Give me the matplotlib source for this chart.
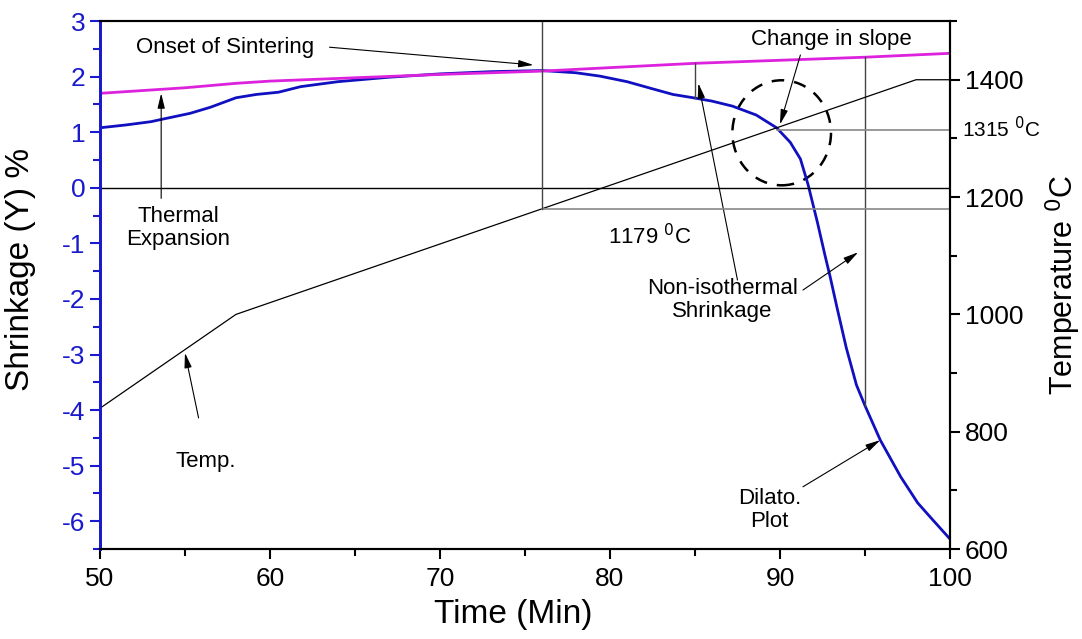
import matplotlib
matplotlib.use("Agg")
import matplotlib.pyplot as plt
from matplotlib.patches import Ellipse
from matplotlib.ticker import MultipleLocator

plt.rcParams['font.family'] = ['Liberation Sans', 'DejaVu Sans']
plt.rcParams['axes.unicode_minus'] = False

# Dilatometer shrinkage curve (blue)
dil_time = [50, 51.5, 53, 53.6, 55.3, 56.5, 58, 59.2, 60.5, 61.8, 64, 67, 70, 73, 76,
            78, 79.4, 81, 82.4, 83.7, 84.9, 86, 87.2, 88.6, 89.8, 90.6, 91.2, 91.65,
            92.2, 92.65, 92.95, 93.35, 93.9, 94.5, 95.0, 95.9, 97.1, 98.1, 99, 100]
dil_val = [1.08, 1.13, 1.19, 1.23, 1.34, 1.45, 1.62, 1.68, 1.72, 1.82, 1.91, 1.99, 2.05, 2.09, 2.11,
           2.07, 2.01, 1.91, 1.79, 1.68, 1.62, 1.56, 1.47, 1.31, 1.08, 0.82, 0.52, 0.06,
           -0.62, -1.22, -1.60, -2.15, -2.88, -3.55, -3.92, -4.54, -5.2, -5.67, -5.98, -6.32]

# Thermal expansion reference (magenta)
exp_time = [50, 55, 58, 60, 65, 70, 76, 85, 95, 100]
exp_val = [1.70, 1.80, 1.88, 1.92, 1.98, 2.04, 2.10, 2.24, 2.35, 2.42]

# Temperature program
temp_time = [50, 58, 98, 100]
temp_val = [840, 1000, 1400, 1400]

fig = plt.figure(figsize=(10.82, 6.39), dpi=100)
ax = fig.add_axes([0.0924, 0.1408, 0.7856, 0.8262])
ax2 = ax.twinx()

blue_tick = '#1a1acc'
ax.plot(dil_time, dil_val, color='#1010c0', lw=2)
ax.plot(exp_time, exp_val, color='#dd22dd', lw=2)
ax2.plot(temp_time, temp_val, color='black', lw=0.9)

ax.set_xlim(50, 100)
ax.set_ylim(-6.5, 3)
ax2.set_ylim(600, 1500)

ax.axhline(0, color='black', lw=1)
ax2.plot([76, 100], [1179, 1179], color='#888888', lw=1.2)
ax2.plot([89.8, 100], [1315, 1315], color='#888888', lw=1.2)
ax2.plot([76, 76], [1179, 1500], color='#444444', lw=1)
ax.plot([85, 85], [1.62, 2.24], color='#444444', lw=1)
ax.plot([95, 95], [-3.92, 2.35], color='#444444', lw=1)

ax.add_patch(Ellipse((90.1, 0.99), 5.8, 1.89, fill=False, ls=(0, (5, 4)), lw=1.8, color='black'))

# spines and ticks
ax.spines['left'].set_color(blue_tick)
ax.spines['left'].set_linewidth(2)
ax2.spines['left'].set_color(blue_tick)
ax2.spines['left'].set_linewidth(2)
for s in ['top', 'right', 'bottom']:
    ax.spines[s].set_linewidth(1.5)
    ax2.spines[s].set_linewidth(1.5)

ax.xaxis.set_major_locator(MultipleLocator(10))
ax.xaxis.set_minor_locator(MultipleLocator(5))
ax.yaxis.set_major_locator(MultipleLocator(1))
ax.yaxis.set_minor_locator(MultipleLocator(0.5))
ax2.yaxis.set_major_locator(MultipleLocator(200))
ax2.yaxis.set_minor_locator(MultipleLocator(100))

ax.tick_params(axis='x', which='both', direction='out', width=1.5, labelsize=19, pad=6)
ax.tick_params(axis='x', which='major', length=7)
ax.tick_params(axis='x', which='minor', length=5)
ax.tick_params(axis='y', which='both', direction='out', colors=blue_tick, width=1.5, labelsize=19)
ax.tick_params(axis='y', which='major', length=7)
ax.tick_params(axis='y', which='minor', length=5)
ax2.tick_params(axis='y', which='both', direction='out', width=1.5, labelsize=19)
ax2.tick_params(axis='y', which='major', length=7)
ax2.tick_params(axis='y', which='minor', length=5)

ax.set_xlabel('Time (Min)', fontsize=24)
ax.xaxis.set_label_coords(0.486, -0.095)
ax.set_ylabel('Shrinkage (Y) %', fontsize=24)
ax.yaxis.set_label_coords(-0.075, 0.53)
ax2.set_ylabel('Temperature $^0$C', fontsize=22)
ax2.yaxis.set_label_coords(1.11, 0.5)

ap = dict(arrowstyle='-|>,head_length=0.9,head_width=0.22', color='black', lw=0.8, shrinkA=0, shrinkB=0)
fs = 16

ax.text(57.35, 2.53, 'Onset of Sintering', fontsize=fs, ha='center', va='center')
ax.annotate('', xy=(75.5, 2.21), xytext=(63.5, 2.53), arrowprops=ap)

ax.text(93.0, 2.67, 'Change in slope', fontsize=fs, ha='center', va='center')
ax.annotate('', xy=(90.0, 1.14), xytext=(91.2, 2.39), arrowprops=ap)

ax.text(54.6, -0.72, 'Thermal\nExpansion', fontsize=fs, ha='center', va='center', linespacing=1.15)
ax.annotate('', xy=(53.6, 1.70), xytext=(53.6, -0.19), arrowprops=ap)

ax.text(56.2, -4.93, 'Temp.', fontsize=fs, ha='center', va='center')
ax.annotate('', xy=(55.0, -2.97), xytext=(55.8, -4.14), arrowprops=ap)

ax.text(82.35, -0.87, '1179 $^0$C', fontsize=fs, ha='center', va='center')
ax.text(100.7, 1.06, '1315 $^0$C', fontsize=15, ha='left', va='center', clip_on=False)

ax.text(86.6, -2.02, 'Non-isothermal\nShrinkage', fontsize=fs, ha='center', va='center', linespacing=1.15)
ax.annotate('', xy=(85.2, 1.88), xytext=(87.5, -1.66), arrowprops=ap)
ax.annotate('', xy=(94.6, -1.16), xytext=(91.35, -1.84), arrowprops=ap)

ax.text(89.4, -5.8, 'Dilato.\nPlot', fontsize=fs, ha='center', va='center', linespacing=1.15)
ax.annotate('', xy=(95.9, -4.54), xytext=(91.35, -5.38), arrowprops=ap)

fig.savefig('out.png', dpi=100)
